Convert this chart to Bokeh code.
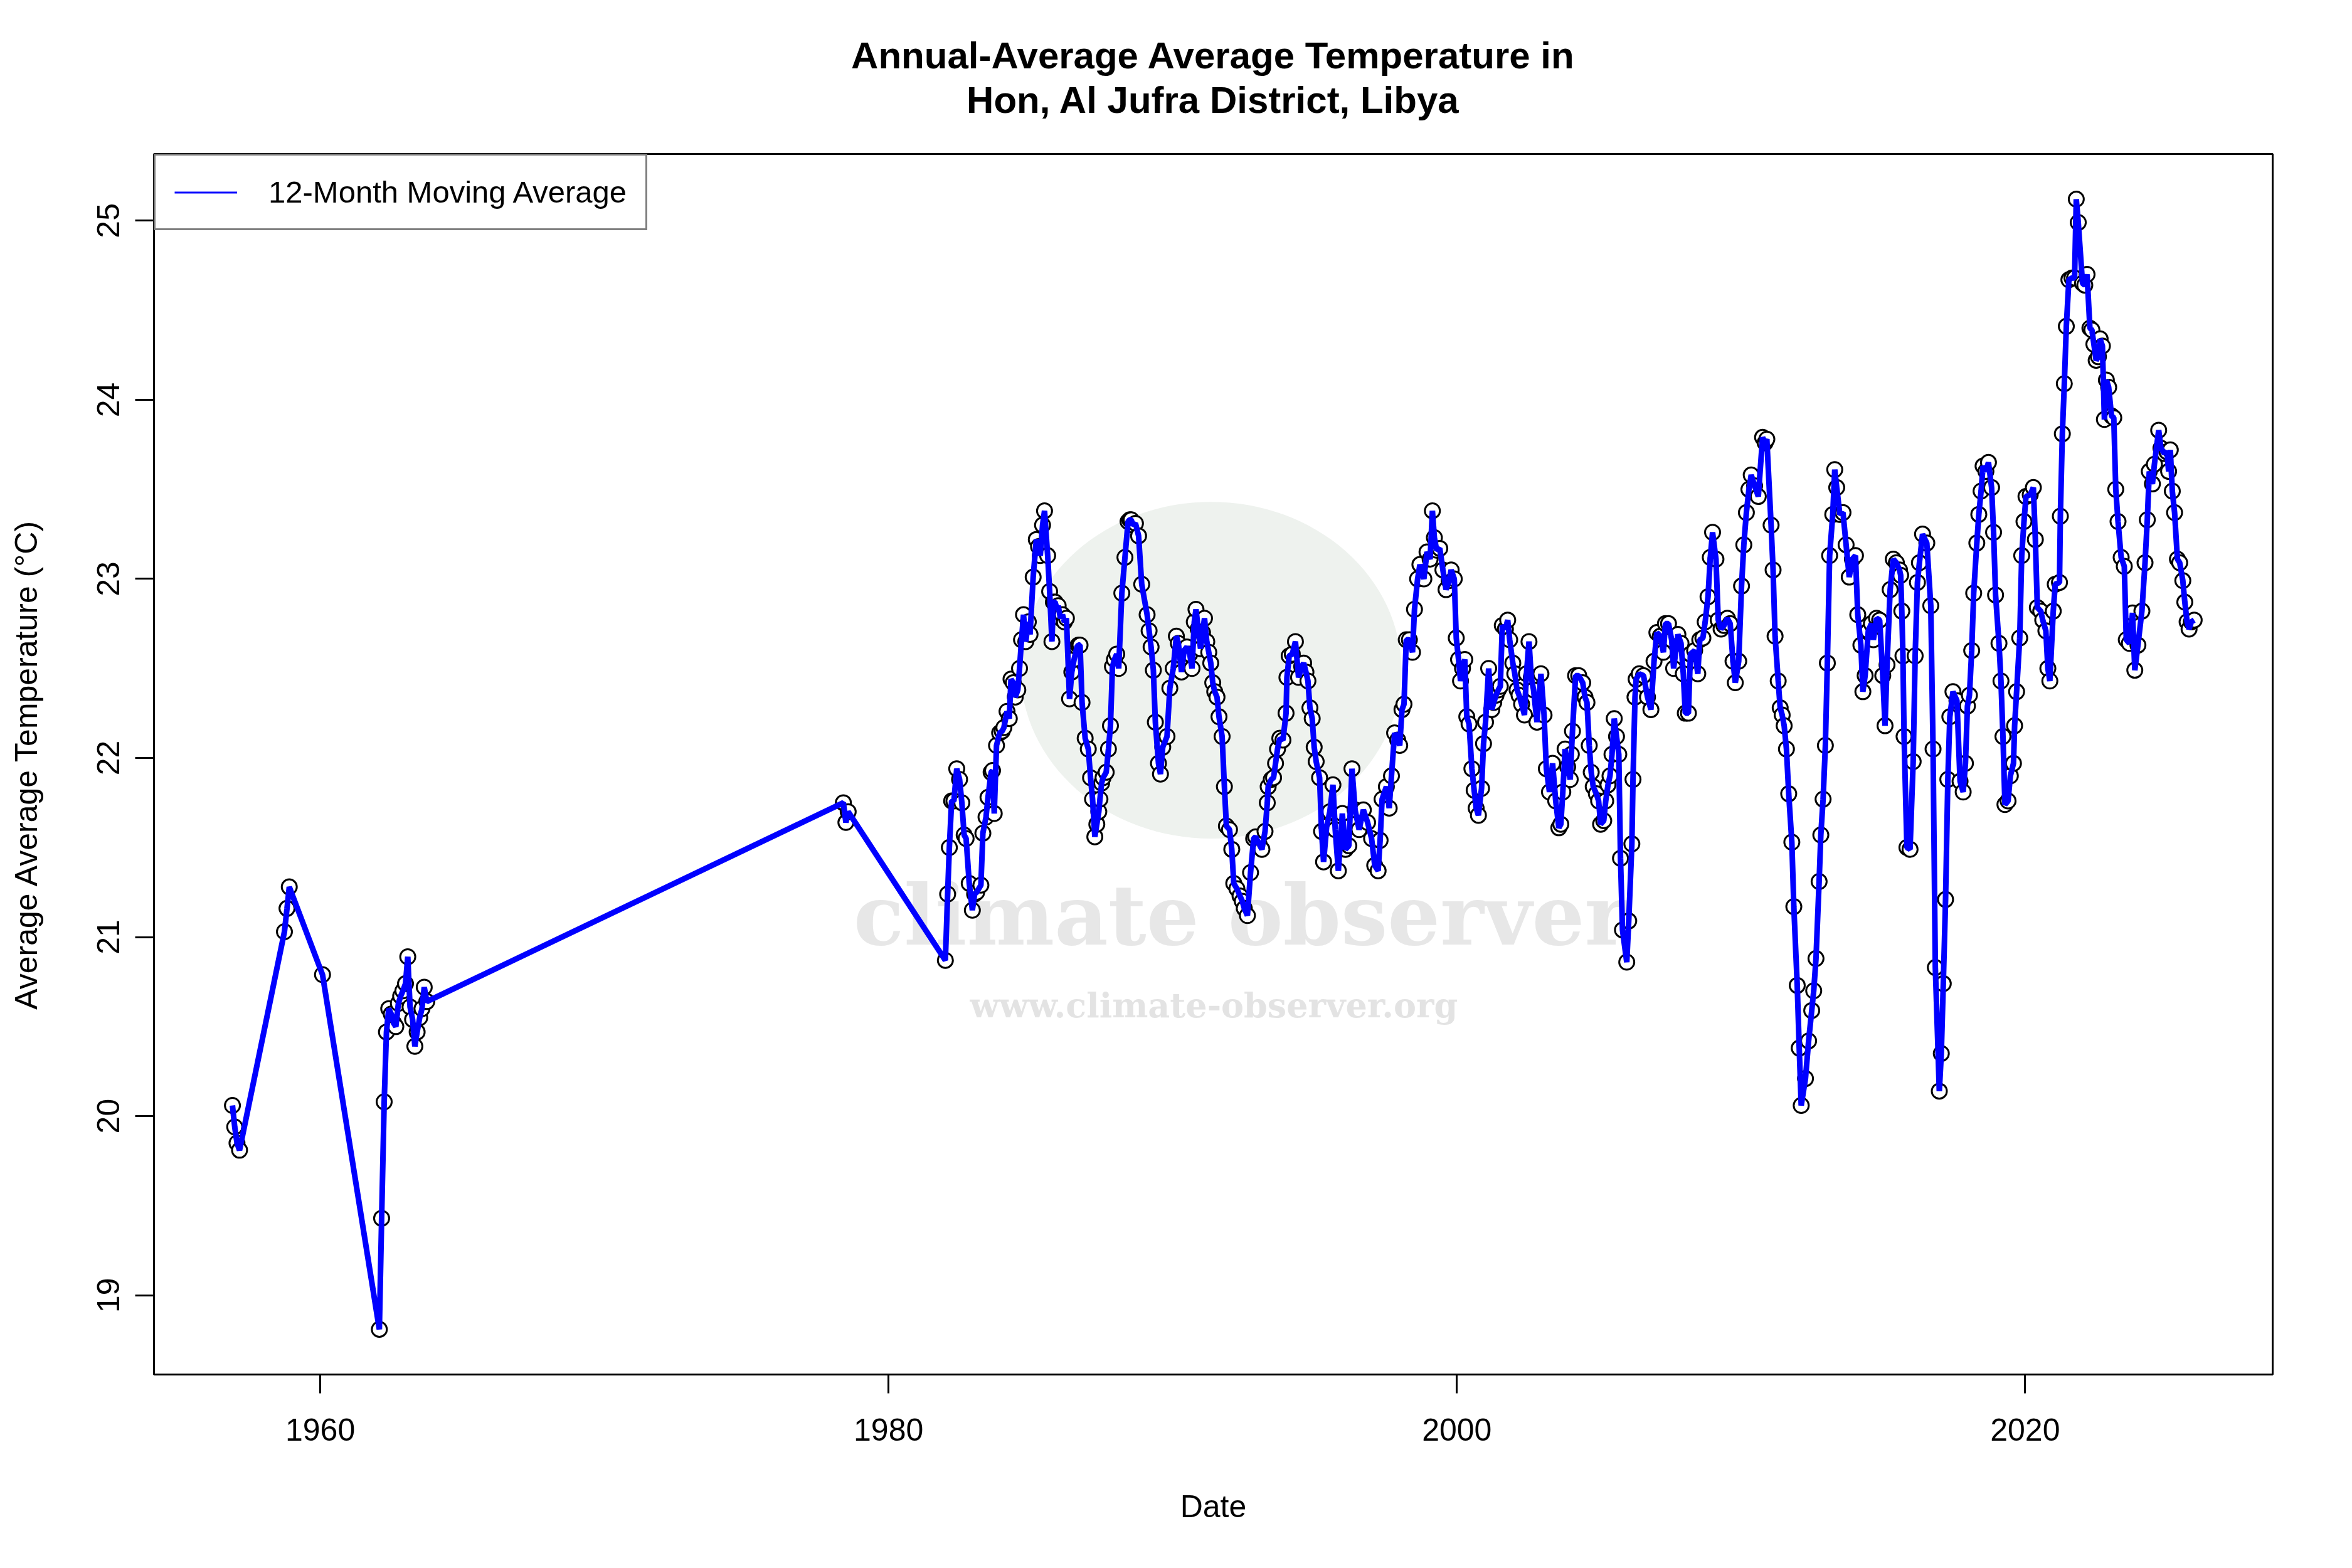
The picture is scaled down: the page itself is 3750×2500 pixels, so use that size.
from bokeh.plotting import figure
from bokeh.models import Range1d, FixedTicker, Legend, LegendItem, Title
from bokeh.core.properties import value
from bokeh.embed import file_html
from bokeh.resources import INLINE

# ---------------- data ----------------
early_dates = [1956.91, 1956.99, 1957.07, 1957.16, 1958.74, 1958.83, 1958.91, 1960.08,
               1962.08, 1962.16, 1962.25, 1962.33, 1962.41, 1962.50, 1962.58, 1962.66,
               1962.75, 1962.83, 1962.91, 1963.00, 1963.08, 1963.16, 1963.25, 1963.33,
               1963.41, 1963.50, 1963.58, 1963.66, 1963.75, 1978.41, 1978.50, 1978.58]
early_temps = [20.06, 19.94, 19.85, 19.81, 21.03, 21.16, 21.28, 20.79,
               18.81, 19.43, 20.08, 20.47, 20.60, 20.57, 20.52, 20.50,
               20.63, 20.67, 20.70, 20.74, 20.89, 20.61, 20.54, 20.39,
               20.47, 20.55, 20.60, 20.72, 20.64, 21.75, 21.64, 21.70]

d80s = [1982.00, 1982.08, 1982.14, 1982.22, 1982.30, 1982.40, 1982.50, 1982.58, 1982.66, 1982.73,
        1982.84, 1982.95, 1983.03, 1983.10, 1983.25, 1983.32, 1983.43, 1983.50, 1983.61, 1983.66,
        1983.72, 1983.80, 1983.91, 1984.00, 1984.06, 1984.17, 1984.25, 1984.31, 1984.39, 1984.46,
        1984.55, 1984.61, 1984.68, 1984.75, 1984.83, 1984.92, 1984.98, 1985.09, 1985.20, 1985.28,
        1985.34, 1985.42, 1985.49, 1985.60, 1985.67, 1985.75, 1985.80, 1985.86, 1985.93, 1985.97,
        1986.05, 1986.12, 1986.19, 1986.26, 1986.37, 1986.45, 1986.53, 1986.63, 1986.68, 1986.74,
        1986.81, 1986.92, 1987.03, 1987.11, 1987.18, 1987.26, 1987.33, 1987.40, 1987.44, 1987.50,
        1987.55, 1987.66, 1987.74, 1987.81, 1987.88, 1987.95, 1988.03, 1988.10, 1988.21, 1988.32,
        1988.43, 1988.49, 1988.54, 1988.60, 1988.69, 1988.80, 1988.91,
        1989.10, 1989.17, 1989.24, 1989.32, 1989.39, 1989.50, 1989.57, 1989.65, 1989.80, 1989.90]
t80s = [20.87, 21.24, 21.50, 21.76, 21.76, 21.94, 21.88, 21.75, 21.57, 21.55,
        21.30, 21.15, 21.24, 21.25, 21.29, 21.58, 21.67, 21.78, 21.92, 21.93,
        21.69, 22.07, 22.14, 22.15, 22.17, 22.26, 22.22, 22.44, 22.42, 22.34,
        22.38, 22.50, 22.66, 22.80, 22.65, 22.76, 22.69, 23.01, 23.22, 23.18,
        23.13, 23.30, 23.38, 23.13, 22.93, 22.65, 22.87, 22.87, 22.83, 22.85,
        22.78, 22.80, 22.76, 22.78, 22.33, 22.48, 22.55, 22.62, 22.63, 22.63,
        22.31, 22.11, 22.05, 21.89, 21.77, 21.56, 21.63, 21.70, 21.77, 21.86,
        21.89, 21.92, 22.05, 22.18, 22.51, 22.55, 22.58, 22.50, 22.92, 23.12,
        23.32, 23.33, 23.33, 23.30, 23.31, 23.24, 22.97,
        22.80, 22.71, 22.62, 22.49, 22.20, 21.97, 21.91, 22.06, 22.12, 22.39]

d90s = [1990.02, 1990.13, 1990.20, 1990.31, 1990.40, 1990.50, 1990.60, 1990.68, 1990.76, 1990.82,
        1990.90, 1990.98, 1991.05, 1991.12, 1991.20, 1991.27, 1991.34, 1991.41, 1991.48, 1991.56,
        1991.63, 1991.74, 1991.82, 1991.89, 1992.00, 1992.08, 1992.15, 1992.26, 1992.37, 1992.45,
        1992.52, 1992.63, 1992.74, 1992.85, 1992.92, 1993.04, 1993.14, 1993.25, 1993.33, 1993.36,
        1993.47, 1993.55, 1993.62, 1993.69, 1993.77, 1993.88, 1993.99, 1994.02, 1994.10, 1994.21,
        1994.32, 1994.43, 1994.54, 1994.61, 1994.69, 1994.76, 1994.83, 1994.91, 1994.98, 1995.05,
        1995.17, 1995.24, 1995.31, 1995.42, 1995.53, 1995.64, 1995.72, 1995.83, 1995.97, 1996.08,
        1996.20, 1996.31, 1996.42, 1996.56, 1996.71, 1996.86, 1997.00, 1997.11, 1997.23, 1997.30,
        1997.37, 1997.52, 1997.62, 1997.70, 1997.81, 1997.92, 1997.99, 1998.07, 1998.14, 1998.22,
        1998.33, 1998.44, 1998.51, 1998.62, 1998.70, 1998.84, 1998.95, 1999.06, 1999.14, 1999.21,
        1999.29, 1999.40, 1999.51, 1999.62, 1999.73, 1999.80, 1999.91, 1999.98]
t90s = [22.50, 22.68, 22.64, 22.48, 22.60, 22.62, 22.58, 22.50, 22.76, 22.83,
        22.72, 22.61, 22.70, 22.78, 22.65, 22.59, 22.53, 22.42, 22.37, 22.34,
        22.23, 22.12, 21.84, 21.62, 21.60, 21.49, 21.30, 21.27, 21.23, 21.20,
        21.16, 21.12, 21.36, 21.55, 21.56, 21.52, 21.49, 21.59, 21.75, 21.84,
        21.88, 21.89, 21.97, 22.05, 22.11, 22.10, 22.25, 22.45, 22.57, 22.58,
        22.65, 22.45, 22.51, 22.53, 22.48, 22.43, 22.28, 22.22, 22.06, 21.98,
        21.89, 21.59, 21.42, 21.62, 21.70, 21.85, 21.60, 21.37, 21.69, 21.49,
        21.51, 21.94, 21.71, 21.60, 21.71, 21.64, 21.55, 21.40, 21.37, 21.54,
        21.77, 21.84, 21.72, 21.90, 22.14, 22.10, 22.07, 22.27, 22.30, 22.66,
        22.66, 22.59, 22.83, 23.00, 23.08, 23.00, 23.15, 23.11, 23.38, 23.23,
        23.16, 23.17, 23.05, 22.94, 22.99, 23.05, 23.00, 22.67]

d00s = [2000.06, 2000.13, 2000.20, 2000.28, 2000.35, 2000.43, 2000.53, 2000.61, 2000.68, 2000.76,
        2000.87, 2000.94, 2001.01, 2001.12, 2001.23, 2001.30, 2001.38, 2001.46, 2001.53, 2001.60,
        2001.71, 2001.79, 2001.86, 2001.97, 2002.04, 2002.12, 2002.19, 2002.28, 2002.38, 2002.45,
        2002.54, 2002.62, 2002.70, 2002.82, 2002.96, 2003.07, 2003.15, 2003.26, 2003.37, 2003.48,
        2003.59, 2003.66, 2003.73, 2003.81, 2003.90, 2003.99, 2004.03, 2004.07, 2004.18, 2004.29,
        2004.43, 2004.51, 2004.58, 2004.66, 2004.73, 2004.80, 2004.91, 2004.99, 2005.06, 2005.17,
        2005.24, 2005.32, 2005.39, 2005.46, 2005.54, 2005.62, 2005.70, 2005.76, 2005.83, 2005.98,
        2006.05, 2006.16, 2006.20, 2006.27, 2006.31, 2006.42, 2006.57, 2006.71, 2006.83, 2006.94,
        2007.04, 2007.16, 2007.27, 2007.34, 2007.45, 2007.56, 2007.63, 2007.78, 2007.89, 2007.97,
        2008.04, 2008.15, 2008.22, 2008.37, 2008.48, 2008.55, 2008.66, 2008.74, 2008.84, 2008.92,
        2009.00, 2009.12, 2009.20, 2009.30, 2009.40, 2009.52, 2009.62, 2009.72, 2009.80, 2009.92]
t00s = [22.55, 22.43, 22.50, 22.55, 22.23, 22.19, 21.94, 21.82, 21.72, 21.68,
        21.83, 22.08, 22.20, 22.50, 22.27, 22.31, 22.35, 22.38, 22.40, 22.74,
        22.72, 22.77, 22.66, 22.53, 22.47, 22.38, 22.35, 22.30, 22.24, 22.47,
        22.65, 22.45, 22.38, 22.20, 22.47, 22.24, 21.94, 21.81, 21.97, 21.76,
        21.61, 21.63, 21.81, 22.05, 21.95, 21.88, 22.02, 22.15, 22.46, 22.46,
        22.42, 22.34, 22.31, 22.07, 21.92, 21.84, 21.80, 21.76, 21.63, 21.65,
        21.76, 21.85, 21.90, 22.02, 22.22, 22.12, 22.02, 21.44, 21.04, 20.86,
        21.09, 21.52, 21.88, 22.34, 22.44, 22.47, 22.46, 22.34, 22.27, 22.54,
        22.70, 22.68, 22.59, 22.75, 22.75, 22.66, 22.50, 22.69, 22.64, 22.47,
        22.25, 22.25, 22.58, 22.60, 22.47, 22.66, 22.67, 22.76, 22.90, 23.12,
        23.26, 23.11, 22.77, 22.72, 22.74, 22.78, 22.75, 22.54, 22.42, 22.54]

d10s = [2010.02, 2010.10, 2010.19, 2010.28, 2010.36, 2010.48, 2010.61, 2010.76, 2010.85, 2010.91,
        2011.06, 2011.13, 2011.20, 2011.31, 2011.38, 2011.45, 2011.52, 2011.60, 2011.68, 2011.79,
        2011.86, 2011.98, 2012.05, 2012.12, 2012.27, 2012.38, 2012.49, 2012.56, 2012.64, 2012.75,
        2012.81, 2012.89, 2012.97, 2013.04, 2013.12, 2013.23, 2013.30, 2013.37, 2013.48, 2013.59,
        2013.70, 2013.81, 2013.92, 2014.03, 2014.11, 2014.22, 2014.29, 2014.37, 2014.48, 2014.59,
        2014.66, 2014.77, 2014.88, 2014.99, 2015.07, 2015.14, 2015.25, 2015.36, 2015.47, 2015.58,
        2015.62, 2015.66, 2015.70, 2015.74, 2015.84, 2015.95, 2016.06, 2016.13, 2016.21, 2016.28,
        2016.39, 2016.54, 2016.68, 2016.76, 2016.84, 2016.98, 2017.05, 2017.12, 2017.20, 2017.28,
        2017.35, 2017.46, 2017.60, 2017.71, 2017.82, 2017.90, 2017.97, 2018.04, 2018.12, 2018.19,
        2018.30, 2018.37, 2018.45, 2018.52, 2018.62, 2018.71, 2018.82, 2018.89, 2018.96, 2019.08,
        2019.15, 2019.22, 2019.29, 2019.40, 2019.48, 2019.59, 2019.63, 2019.70, 2019.81, 2019.88,
        2019.96]
t10s = [22.96, 23.19, 23.37, 23.50, 23.58, 23.52, 23.46, 23.79, 23.76, 23.78,
        23.30, 23.05, 22.68, 22.43, 22.28, 22.24, 22.18, 22.05, 21.80, 21.53,
        21.17, 20.73, 20.38, 20.06, 20.21, 20.42, 20.59, 20.70, 20.88, 21.31,
        21.57, 21.77, 22.07, 22.53, 23.13, 23.36, 23.61, 23.51, 23.36, 23.37,
        23.19, 23.01, 23.11, 23.13, 22.80, 22.63, 22.37, 22.46, 22.71, 22.75,
        22.66, 22.78, 22.77, 22.46, 22.18, 22.52, 22.94, 23.11, 23.09, 23.05,
        23.02, 22.82, 22.57, 22.12, 21.50, 21.49, 21.98, 22.57, 22.98, 23.09,
        23.25, 23.20, 22.85, 22.05, 20.83, 20.14, 20.35, 20.74, 21.21, 21.88,
        22.23, 22.37, 22.32, 21.87, 21.81, 21.97, 22.29, 22.35, 22.60, 22.92,
        23.20, 23.36, 23.49, 23.63, 23.60, 23.65, 23.51, 23.26, 22.91, 22.64,
        22.43, 22.12, 21.74, 21.76, 21.90, 21.97, 22.18, 22.37, 22.67, 23.13,
        23.32]

d20s = [2020.03, 2020.18, 2020.29, 2020.36, 2020.43, 2020.55, 2020.62, 2020.73, 2020.80, 2020.87,
        2020.99, 2021.06, 2021.21, 2021.24, 2021.31, 2021.38, 2021.45, 2021.54, 2021.65, 2021.74,
        2021.80, 2021.87, 2022.02, 2022.10, 2022.18, 2022.28, 2022.35, 2022.42, 2022.50, 2022.58,
        2022.64, 2022.72, 2022.79, 2022.86, 2022.94, 2023.04, 2023.12, 2023.19, 2023.27, 2023.38,
        2023.49, 2023.56, 2023.67, 2023.78, 2023.86, 2023.97, 2024.11, 2024.22, 2024.30, 2024.37,
        2024.48, 2024.55, 2024.70, 2024.78, 2024.90, 2024.99, 2025.05, 2025.11, 2025.18, 2025.26,
        2025.36, 2025.44, 2025.55, 2025.62, 2025.70, 2025.77, 2025.85, 2025.95]
t20s = [23.46, 23.47, 23.51, 23.22, 22.84, 22.82, 22.77, 22.71, 22.50, 22.43,
        22.82, 22.97, 22.98, 23.35, 23.81, 24.09, 24.41, 24.67, 24.68, 24.68,
        25.12, 24.99, 24.65, 24.64, 24.70, 24.40, 24.39, 24.31, 24.22, 24.24,
        24.34, 24.30, 23.89, 24.11, 24.07, 23.91, 23.90, 23.50, 23.32, 23.12,
        23.07, 22.66, 22.64, 22.81, 22.49, 22.63, 22.82, 23.09, 23.33, 23.60,
        23.53, 23.64, 23.83, 23.73, 23.70, 23.71, 23.60, 23.72, 23.49, 23.37,
        23.11, 23.09, 22.99, 22.87, 22.76, 22.72, 22.76, 22.77]

x_ticks = [1960, 1980, 2000, 2020]
y_ticks = [19, 20, 21, 22, 23, 24, 25]
title_line1 = "Annual-Average Average Temperature in"
title_line2 = "Hon, Al Jufra District, Libya"
legend_label = "12-Month Moving Average"
x_label = "Date"
y_label = "Average Average Temperature (\u00b0C)"

dates = early_dates + d80s + d90s + d00s + d10s + d20s
temps = early_temps + t80s + t90s + t00s + t10s + t20s

# ---------------- figure ----------------
FONT = "Liberation Sans"
xmin, xmax = min(dates), max(dates)
ymin, ymax = min(temps), max(temps)
xpad = 0.04 * (xmax - xmin)
ypad = 0.04 * (ymax - ymin)

p = figure(width=3734, height=2484, output_backend="svg", toolbar_location=None,
           x_range=Range1d(xmin - xpad, xmax + xpad),
           y_range=Range1d(ymin - ypad, ymax + ypad),
           min_border_left=245, min_border_right=111,
           min_border_top=245, min_border_bottom=293,
           background_fill_color="white", border_fill_color="white")

p.grid.visible = False
p.outline_line_color = "black"
p.outline_line_width = 3

# title: p.title is the outermost line; "above" items stack outward from the frame:
# first a thin spacer, then the second title line.
p.title.text = title_line1
p.title.align = "center"
p.title.text_font = FONT
p.title.text_font_size = "60px"
p.title.text_font_style = "bold"
p.title.text_color = "black"
p.title.standoff = 4
p.add_layout(Title(text=" ", text_font_size="1px", standoff=50), "above")
p.add_layout(Title(text=title_line2, align="center", text_font=FONT,
                   text_font_size="60px", text_font_style="bold",
                   text_color="black", standoff=0), "above")

# axes
for ax, ticks, lab in ((p.xaxis[0], x_ticks, x_label), (p.yaxis[0], y_ticks, y_label)):
    ax.ticker = FixedTicker(ticks=ticks)
    ax.axis_line_color = None
    ax.major_tick_out = 30
    ax.major_tick_in = 0
    ax.major_tick_line_width = 3
    ax.major_tick_line_color = "black"
    ax.minor_tick_line_color = None
    ax.major_label_text_font = FONT
    ax.major_label_text_font_size = "50px"
    ax.major_label_text_color = "black"
    ax.axis_label = lab
    ax.axis_label_text_font = FONT
    ax.axis_label_text_font_size = "50px"
    ax.axis_label_text_font_style = "normal"
    ax.axis_label_text_color = "black"

p.xaxis[0].major_label_standoff = 40
p.xaxis[0].axis_label_standoff = 74
p.yaxis[0].major_label_orientation = "vertical"
p.yaxis[0].major_label_standoff = 25
p.yaxis[0].axis_label_standoff = 83

# watermark
p.ellipse(x=[1991.35], y=[22.49], width=[13.4], height=[1.88],
          fill_color="#eef2ee", line_color=None)
p.text(x=[1992.4], y=[21.12], text=["climate observer"],
       text_font=value("DejaVu Serif"), text_font_style="bold", text_font_size="132px",
       text_color="#e7e7e7", text_align="center", text_baseline="alphabetic")
p.text(x=[1991.45], y=[20.62], text=["www.climate-observer.org"],
       text_font=value("DejaVu Serif"), text_font_style="bold", text_font_size="54px",
       text_color="#e3e3e3", text_align="center", text_baseline="alphabetic")

# data
p.scatter(dates, temps, marker="circle", size=24, fill_color="white",
          line_color="black", line_width=3)
p.line(dates, temps, line_color="#0000ff", line_width=9)

# legend swatch: a one-point line (draws nothing in the plot) with the legend's thin width
swatch = p.line(x=dates[:1], y=temps[:1], line_color="#0000ff", line_width=3)
legend = Legend(items=[LegendItem(label=legend_label, renderers=[swatch])],
                location="top_left")
legend.margin = 0
legend.padding = 30
legend.border_line_color = "black"
legend.border_line_width = 3
legend.background_fill_color = "white"
legend.background_fill_alpha = 1
legend.glyph_width = 100
legend.glyph_height = 55
legend.label_height = 55
legend.label_standoff = 50
legend.label_text_font = FONT
legend.label_text_font_size = "49px"
legend.label_text_color = "black"
p.add_layout(legend)

open("out.html", "w").write(file_html(p, INLINE))
